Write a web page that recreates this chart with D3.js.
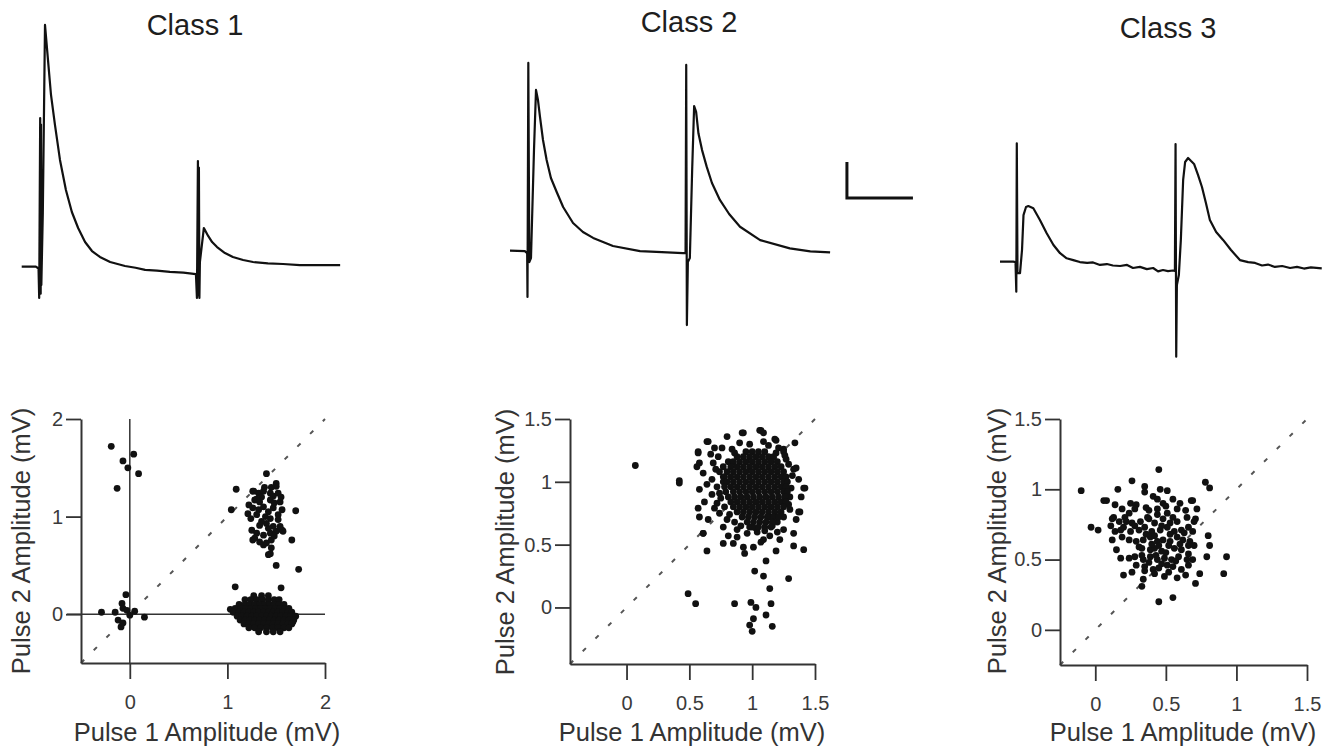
<!DOCTYPE html>
<html>
<head>
<meta charset="utf-8">
<script src="https://cdn.jsdelivr.net/npm/d3@7"></script>
<style>
  body { margin: 0; background: #fff; }
  svg { display: block; }
</style>
</head>
<body>
<div id="container"></div>
<script>
const width = 1335, height = 750;
const font = "'Liberation Sans', Arial, Helvetica, sans-serif";

// Titles
const classTitles = ["Class 1", "Class 2", "Class 3"];

// Example traces: [time (ms), voltage (mV)] relative to trace start / baseline
const trace1 = [
  [0, 0], [4.3, 0], [5.1, -0.1], [5.3, -1.74], [5.6, 8.26], [5.75, -1.5], [5.85, 7.9], [5.95, -1.02], [6.4, 3.0],
  [7.06, 13.43], [7.97, 11.48], [8.88, 9.54], [10.09, 7.87], [11.6, 5.93], [13.4, 4.26],
  [15.2, 3.04], [17.1, 2.15], [19.2, 1.37], [21.3, 0.87], [23.7, 0.54], [26.8, 0.26],
  [31.3, 0.04], [34.5, -0.06], [37.4, -0.18], [41.0, -0.22], [44.9, -0.29], [49.0, -0.33], [52.8, -0.41],
  [53.1, -1.74], [53.4, 5.87], [53.55, -1.6], [53.7, 5.5], [53.85, -1.74], [54.0, 0.26], [55.2, 2.15], [56.5, 1.71],
  [57.7, 1.37], [59.2, 1.09], [61.6, 0.76], [64.0, 0.54], [67.1, 0.37], [70.1, 0.26],
  [74.6, 0.18], [79.2, 0.15], [84.3, 0.09], [90.4, 0.09], [96.5, 0.09]
];
const trace2 = [
  [0, 0], [4.5, -0.02], [5.2, -0.13], [5.3, -2.57], [5.55, 10.43], [5.85, -0.63], [6.36, -0.41],
  [7.27, 5.59], [7.88, 8.93], [8.48, 8.37], [9.09, 7.43], [10.0, 6.15], [11.1, 5.04],
  [12.4, 4.04], [14.15, 3.26], [16.1, 2.43], [19.1, 1.54], [22.1, 1.04], [25.2, 0.71],
  [31.2, 0.26], [39.4, -0.02], [46.0, -0.08], [52.4, -0.13], [53.2, -0.13],
  [53.4, 10.32], [53.6, -4.13], [53.9, -0.63], [54.5, -0.41], [55.2, 4.48], [55.8, 8.04],
  [56.4, 7.71], [57.1, 6.52], [58.2, 5.59], [59.6, 4.67], [61.2, 3.76], [63.6, 2.82],
  [66.4, 2.04], [69.7, 1.33], [75.8, 0.59], [84.8, 0.13], [91.0, -0.04], [97.0, -0.09]
];
const trace3 = [
  [0, 0], [4.0, 0], [4.7, -0.02], [4.94, -1.67], [5.09, 6.58], [5.3, -0.63], [6.06, -0.63],
  [6.67, 0.65], [7.12, 2.59], [7.88, 3.04], [8.58, 3.09], [10.1, 2.97], [12.1, 2.32],
  [14.15, 1.58], [16.2, 0.93], [18.2, 0.47], [20.2, 0.19], [22.2, 0.09], [24.2, -0.02],
  [26.4, -0.07], [28.2, -0.04], [30.3, -0.18], [32.4, -0.13], [34.2, -0.21], [36.4, -0.24],
  [38.5, -0.18], [40.3, -0.35], [42.4, -0.29], [44.5, -0.41], [46.4, -0.35], [47.9, -0.54],
  [49.4, -0.46], [50.9, -0.52], [52.4, -0.49], [53.0, -0.52],
  [53.2, 6.54], [53.4, -5.28], [53.6, -1.29], [54.2, -0.74], [54.8, 1.21], [55.5, 4.54],
  [56.1, 5.54], [57.0, 5.76], [57.9, 5.59], [58.8, 5.43], [60.0, 4.82], [61.2, 4.15],
  [62.4, 3.26], [63.6, 2.32], [65.5, 1.65], [67.6, 1.21], [70.0, 0.65], [72.7, 0.09],
  [75.2, -0.02], [77.3, -0.07], [79.4, -0.21], [81.2, -0.16], [83.3, -0.29], [85.5, -0.24],
  [87.9, -0.35], [90.0, -0.29], [92.1, -0.38], [94.2, -0.32], [97.5, -0.37]
];
// Scale bar: 20 ms, 2 mV (placed in trace-2 coordinates)
const scaleBar = { t0: 102.1, v0: 2.93, ms: 20, mV: 2 };

// Tick labels
const ticks1 = [0, 1, 2];
const ticks23 = [0, 0.5, 1, 1.5];

// Scatter data: [pulse 1 amplitude, pulse 2 amplitude] (mV)
const class1Sparse = [
  [-0.19, 1.72], [-0.07, 1.57], [0.04, 1.64], [-0.02, 1.50], [0.09, 1.44], [-0.13, 1.29],
  [-0.04, 0.20], [-0.08, 0.11], [-0.07, 0.06], [-0.29, 0.02], [-0.15, 0.02], [-0.03, 0.04],
  [0.05, 0.03], [0.0, -0.01], [-0.12, -0.06], [-0.09, -0.13], [-0.07, -0.09], [0.15, -0.03],
  [1.09, 1.28], [1.04, 1.07], [1.70, 1.06], [1.66, 0.76], [1.50, 0.50], [1.73, 0.46],
  [1.08, 0.28], [1.55, 0.27], [1.03, 0.05], [1.67, -0.08]
];
const class1Upper = [
  [1.40, 1.44], [1.50, 1.34], [1.44, 1.24], [1.27, 1.26], [1.32, 1.24], [1.37, 1.26],
  [1.47, 1.21], [1.52, 1.24], [1.28, 1.17], [1.33, 1.15], [1.44, 1.17], [1.54, 1.15],
  [1.26, 1.09], [1.32, 1.07], [1.37, 1.10], [1.47, 1.09], [1.56, 1.07], [1.30, 1.02],
  [1.39, 1.00], [1.44, 0.98], [1.52, 0.97], [1.33, 0.91], [1.40, 0.93], [1.47, 0.90],
  [1.56, 0.86], [1.25, 0.86], [1.30, 0.83], [1.37, 0.81], [1.44, 0.83], [1.50, 0.85],
  [1.57, 0.85], [1.26, 0.76], [1.33, 0.74], [1.40, 0.73], [1.45, 0.76], [1.37, 0.71],
  [1.45, 0.68], [1.42, 0.61], [1.21, 1.03], [1.26, 1.26], [1.50, 1.31], [1.54, 0.90],
  [1.22, 1.12], [1.24, 0.98], [1.35, 1.20], [1.42, 1.05], [1.48, 1.14], [1.35, 0.95],
  [1.42, 0.88], [1.52, 1.02], [1.38, 1.30], [1.30, 1.18], [1.45, 1.30], [1.55, 1.20],
  [1.28, 0.78], [1.48, 0.80], [1.44, 0.62]
];
// dense lower cluster, rows of [pulse 2, [pulse 1 values]]
const class1LowerRows = [
  [0.19, [1.27, 1.35, 1.42]],
  [0.15, [1.18, 1.24, 1.30, 1.36, 1.42, 1.48, 1.53]],
  [0.10, [1.12, 1.18, 1.23, 1.28, 1.33, 1.38, 1.43, 1.48, 1.53, 1.58]],
  [0.06, [1.08, 1.14, 1.19, 1.24, 1.29, 1.34, 1.39, 1.44, 1.49, 1.54, 1.59, 1.63]],
  [0.02, [1.06, 1.12, 1.17, 1.22, 1.27, 1.32, 1.37, 1.42, 1.47, 1.52, 1.57, 1.62, 1.66]],
  [-0.02, [1.10, 1.15, 1.20, 1.25, 1.30, 1.35, 1.40, 1.45, 1.50, 1.55, 1.60, 1.65, 1.70]],
  [-0.06, [1.13, 1.18, 1.23, 1.28, 1.33, 1.38, 1.43, 1.48, 1.53, 1.58, 1.63, 1.68]],
  [-0.10, [1.17, 1.22, 1.27, 1.32, 1.37, 1.42, 1.47, 1.52, 1.57, 1.62, 1.66]],
  [-0.14, [1.22, 1.28, 1.34, 1.40, 1.46, 1.52, 1.58, 1.63]],
  [-0.18, [1.32, 1.40, 1.47, 1.54]]
];

const class2Sparse = [
  [0.07, 1.13], [0.42, 1.01], [0.42, 0.99], [0.49, 0.11], [0.55, 0.03], [0.86, 0.03],
  [1.29, 0.23], [0.99, 0.04], [1.03, 0.00], [1.01, -0.09], [0.98, -0.14], [1.00, -0.19],
  [1.11, -0.06], [1.16, -0.15], [1.15, 0.03], [1.14, 0.15], [1.09, 0.25], [1.02, 0.29],
  [1.11, 0.37], [0.64, 0.45], [1.41, 0.46], [1.33, 0.49], [1.19, 0.45], [0.94, 0.43],
  [1.42, 0.95], [1.37, 0.76], [1.07, 1.41], [0.93, 1.39], [0.64, 1.32], [0.57, 1.24],
  [0.56, 1.12], [0.61, 0.59], [0.77, 0.51], [1.18, 1.34], [1.25, 1.26], [1.35, 1.11],
  [0.57, 1.23], [0.58, 1.15], [0.61, 1.07], [0.64, 0.98], [0.58, 0.94], [0.62, 0.84],
  [0.57, 0.79], [0.58, 0.72], [0.65, 0.70], [0.61, 0.59], [0.69, 1.15], [0.68, 1.02],
  [0.72, 0.83], [0.74, 0.75], [0.77, 0.64], [0.81, 0.57], [0.85, 0.51], [0.93, 0.48],
  [1.01, 0.48], [1.09, 0.54], [1.14, 0.57], [1.22, 0.54], [1.33, 0.59], [1.35, 0.70],
  [1.38, 0.76], [1.39, 0.88], [1.41, 0.95], [1.37, 1.02], [1.33, 1.10], [1.27, 1.18],
  [1.25, 1.24], [1.19, 1.33], [1.09, 1.39], [1.06, 1.41], [0.92, 1.39], [0.80, 1.36],
  [0.70, 1.27], [0.65, 1.32], [0.90, 1.31], [0.98, 1.30], [1.09, 1.32], [1.34, 1.31],
  [1.30, 0.78], [1.25, 0.62], [1.04, 0.60], [0.96, 0.59], [0.88, 0.62], [0.80, 0.70],
  [0.74, 0.91], [0.77, 1.04], [0.73, 1.20], [0.84, 1.26], [1.19, 1.23], [1.27, 0.99],
  [1.30, 0.88], [1.16, 0.65], [1.14, 0.72],
  [0.74, 1.08], [0.72, 0.96], [0.75, 0.87], [0.78, 0.80], [0.82, 0.74], [0.86, 0.68],
  [0.91, 0.65], [1.20, 0.68], [1.25, 0.72], [1.29, 0.82], [1.31, 0.95], [1.32, 1.05],
  [1.29, 1.14], [1.26, 1.21], [1.21, 1.27], [1.13, 1.29], [0.86, 1.23], [0.81, 1.16],
  [0.77, 1.12], [1.10, 0.61], [1.03, 0.63], [0.98, 0.64], [0.70, 0.79], [0.68, 0.90],
  [0.71, 1.10], [0.67, 1.22], [0.76, 1.27], [0.88, 0.56], [1.07, 0.52], [1.20, 0.60]
];
const class2CoreRows = [
  [1.24, [0.95, 1.00, 1.05, 1.10]],
  [1.20, [0.88, 0.93, 0.98, 1.03, 1.08, 1.13, 1.17]],
  [1.16, [0.85, 0.90, 0.95, 1.00, 1.05, 1.10, 1.15, 1.20]],
  [1.12, [0.83, 0.88, 0.93, 0.98, 1.03, 1.08, 1.13, 1.18, 1.23]],
  [1.08, [0.80, 0.85, 0.90, 0.95, 1.00, 1.05, 1.10, 1.15, 1.20, 1.25]],
  [1.04, [0.78, 0.83, 0.88, 0.93, 0.98, 1.03, 1.08, 1.13, 1.18, 1.23, 1.27]],
  [1.00, [0.77, 0.80, 0.85, 0.90, 0.95, 1.00, 1.05, 1.10, 1.15, 1.20, 1.25, 1.28]],
  [0.96, [0.78, 0.83, 0.88, 0.93, 0.98, 1.03, 1.08, 1.13, 1.18, 1.23, 1.27]],
  [0.92, [0.79, 0.85, 0.90, 0.95, 1.00, 1.05, 1.10, 1.15, 1.20, 1.25, 1.28]],
  [0.88, [0.81, 0.86, 0.91, 0.96, 1.01, 1.06, 1.11, 1.16, 1.21, 1.26]],
  [0.84, [0.83, 0.88, 0.93, 0.98, 1.03, 1.08, 1.13, 1.18, 1.23, 1.27]],
  [0.80, [0.85, 0.90, 0.95, 1.00, 1.05, 1.10, 1.15, 1.20, 1.25]],
  [0.76, [0.88, 0.93, 0.98, 1.03, 1.08, 1.13, 1.18, 1.23]],
  [0.72, [0.92, 0.97, 1.02, 1.07, 1.12, 1.17, 1.21]],
  [0.68, [0.96, 1.01, 1.06, 1.11, 1.16]],
  [0.64, [1.00, 1.05, 1.10, 1.15]]
];

const class3Points = [
  [0.35, 0.98], [0.46, 1.00], [0.51, 0.99], [0.41, 0.95],
  [0.08, 0.92], [0.14, 0.89], [0.25, 0.90], [0.29, 0.89], [0.44, 0.93], [0.48, 0.90], [0.55, 0.93], [0.60, 0.90], [0.68, 0.92],
  [0.13, 0.80], [0.19, 0.86], [0.24, 0.83], [0.28, 0.86], [0.38, 0.85], [0.44, 0.86], [0.51, 0.83], [0.58, 0.86], [0.64, 0.85], [0.72, 0.86],
  [0.12, 0.79], [0.17, 0.77], [0.21, 0.80], [0.26, 0.76], [0.32, 0.77], [0.38, 0.79], [0.42, 0.76], [0.48, 0.79], [0.53, 0.76], [0.58, 0.77], [0.65, 0.80], [0.71, 0.79],
  [0.11, 0.74], [0.14, 0.70], [0.20, 0.73], [0.25, 0.70], [0.31, 0.71], [0.35, 0.73], [0.40, 0.70], [0.46, 0.71], [0.51, 0.73], [0.56, 0.70], [0.61, 0.71], [0.66, 0.73], [0.69, 0.70],
  [0.12, 0.64], [0.19, 0.66], [0.24, 0.64], [0.29, 0.63], [0.34, 0.64], [0.39, 0.66], [0.44, 0.63], [0.48, 0.64], [0.53, 0.63], [0.58, 0.66], [0.62, 0.64], [0.67, 0.63],
  [0.15, 0.57], [0.33, 0.58], [0.39, 0.57], [0.42, 0.58], [0.47, 0.56], [0.52, 0.60], [0.56, 0.58], [0.61, 0.57], [0.66, 0.60],
  [0.18, 0.51], [0.24, 0.51], [0.28, 0.52], [0.34, 0.50], [0.39, 0.52], [0.44, 0.50], [0.49, 0.51], [0.54, 0.50], [0.59, 0.52], [0.65, 0.50], [0.69, 0.50],
  [0.35, 0.45], [0.41, 0.43], [0.51, 0.46], [0.55, 0.45], [0.61, 0.43], [0.66, 0.46],
  [0.20, 0.39], [0.26, 0.41], [0.34, 0.36], [0.49, 0.38], [0.64, 0.39],
  [-0.10, 0.99], [-0.03, 0.73], [0.02, 0.71], [0.45, 1.14], [0.78, 1.05], [0.81, 1.01],
  [0.45, 0.20], [0.55, 0.23], [0.71, 0.33], [0.33, 0.31], [0.93, 0.52], [0.91, 0.40],
  [0.80, 0.67], [0.81, 0.60], [0.79, 0.52], [0.74, 0.40], [0.16, 1.00], [0.26, 1.06],
  [0.35, 1.02], [0.06, 0.92], [0.69, 0.92],
  [0.36, 0.68], [0.42, 0.67], [0.47, 0.74], [0.53, 0.68], [0.40, 0.61], [0.45, 0.60],
  [0.50, 0.55], [0.37, 0.80], [0.44, 0.82], [0.55, 0.80], [0.43, 0.53], [0.38, 0.48],
  [0.47, 0.47], [0.57, 0.49], [0.31, 0.59], [0.28, 0.74], [0.22, 0.77], [0.18, 0.71],
  [0.36, 0.87], [0.50, 0.88], [0.60, 0.61], [0.63, 0.69], [0.33, 0.53], [0.29, 0.46],
  [0.42, 0.40], [0.52, 0.41], [0.58, 0.37], [0.66, 0.54], [0.70, 0.60], [0.70, 0.77],
  [0.35, 0.42], [0.45, 0.44]
];

const rowsToPoints = rows => rows.flatMap(([y, xs]) => xs.map(x => [x, y]));

const svg = d3.select("#container").append("svg")
  .attr("width", width).attr("height", height)
  .style("font-family", font);

// ---- Titles
const titlePos = [[195, 35], [689, 32], [1168, 38]];
classTitles.forEach((txt, i) => {
  svg.append("text")
    .attr("x", titlePos[i][0]).attr("y", titlePos[i][1])
    .attr("text-anchor", "middle")
    .attr("fill", "#1e1e1e")
    .style("font-size", "29px")
    .text(txt);
});

// ---- Traces
const traceDefs = [
  { data: trace1, x0: 21.7, y0: 266.7 },
  { data: trace2, x0: 510, y0: 250.7 },
  { data: trace3, x0: 1000, y0: 261.7 }
];
const traceScales = traceDefs.map(d => ({
  x: d3.scaleLinear().domain([0, 100]).range([d.x0, d.x0 + 330]),
  y: d3.scaleLinear().domain([0, 10]).range([d.y0, d.y0 - 180])
}));

traceDefs.forEach((d, i) => {
  const s = traceScales[i];
  svg.append("path")
    .datum(d.data)
    .attr("fill", "none")
    .attr("stroke", "#111")
    .attr("stroke-width", 2.2)
    .attr("stroke-linejoin", "round")
    .attr("d", d3.line().x(p => s.x(p[0])).y(p => s.y(p[1])));
});

// scale bar
{
  const s = traceScales[1];
  const pts = [
    [scaleBar.t0, scaleBar.v0 + scaleBar.mV],
    [scaleBar.t0, scaleBar.v0],
    [scaleBar.t0 + scaleBar.ms, scaleBar.v0]
  ];
  svg.append("path")
    .datum(pts)
    .attr("fill", "none")
    .attr("stroke", "#111")
    .attr("stroke-width", 3)
    .attr("d", d3.line().x(p => s.x(p[0])).y(p => s.y(p[1])));
}

// ---- Scatter panels
const panels = [
  { pts: [...class1Sparse, ...class1Upper, ...rowsToPoints(class1LowerRows)],
    dom: [-0.5, 2], xr: [81, 325], yr: [663, 419], ticks: ticks1,
    xLab: [207, 741], yLab: [30, 541], zero: true },
  { pts: [...class2Sparse, ...rowsToPoints(class2CoreRows)],
    dom: [-0.45, 1.5], xr: [570, 815], yr: [664, 419], ticks: ticks23,
    xLab: [692, 741], yLab: [514, 542], zero: false },
  { pts: class3Points,
    dom: [-0.25, 1.5], xr: [1060, 1307], yr: [665, 419], ticks: ticks23,
    xLab: [1183, 741], yLab: [1006, 541], zero: false }
];

panels.forEach(p => {
  const x = d3.scaleLinear().domain(p.dom).range(p.xr);
  const y = d3.scaleLinear().domain(p.dom).range(p.yr);
  const g = svg.append("g");

  // identity (dashed) line
  g.append("line")
    .attr("x1", x(p.dom[0])).attr("y1", y(p.dom[0]))
    .attr("x2", x(p.dom[1])).attr("y2", y(p.dom[1]))
    .attr("stroke", "#555")
    .attr("stroke-width", 2)
    .attr("stroke-dasharray", "4.5,13.5");

  if (p.zero) {
    g.append("line")
      .attr("x1", x(p.dom[0]) - 14).attr("x2", x(p.dom[1]))
      .attr("y1", y(0)).attr("y2", y(0))
      .attr("stroke", "#333").attr("stroke-width", 1.5);
    g.append("line")
      .attr("x1", x(0)).attr("x2", x(0))
      .attr("y1", y(p.dom[0])).attr("y2", y(p.dom[1]))
      .attr("stroke", "#333").attr("stroke-width", 1.5);
  }

  const xAxis = g.append("g")
    .attr("transform", `translate(0,${p.yr[0]})`)
    .call(d3.axisBottom(x).tickValues(p.ticks).tickSize(16).tickSizeOuter(0)
      .tickPadding(16).tickFormat(d => String(d)));
  const yAxis = g.append("g")
    .attr("transform", `translate(${p.xr[0]},0)`)
    .call(d3.axisLeft(y).tickValues(p.ticks).tickSize(15).tickSizeOuter(0)
      .tickPadding(3).tickFormat(d => String(d)));
  for (const ax of [xAxis, yAxis]) {
    ax.attr("font-family", null).attr("font-size", null);
    ax.selectAll("text").attr("fill", "#3a3a3a").style("font-size", "20px");
    ax.selectAll("line").attr("stroke", "#333").attr("stroke-width", 1.8);
    ax.select(".domain").attr("stroke", "#333").attr("stroke-width", 2);
  }

  g.selectAll("circle.pt")
    .data(p.pts)
    .join("circle")
    .attr("class", "pt")
    .attr("cx", d => x(d[0]))
    .attr("cy", d => y(d[1]))
    .attr("r", 3.4)
    .attr("fill", "#111");

  g.append("text")
    .attr("x", p.xLab[0]).attr("y", p.xLab[1])
    .attr("text-anchor", "middle")
    .attr("fill", "#333")
    .style("font-size", "25.5px")
    .text("Pulse 1 Amplitude (mV)");
  g.append("text")
    .attr("transform", `translate(${p.yLab[0]},${p.yLab[1]}) rotate(-90)`)
    .attr("text-anchor", "middle")
    .attr("fill", "#333")
    .style("font-size", "25.5px")
    .text("Pulse 2 Amplitude (mV)");
});
</script>
</body>
</html>
